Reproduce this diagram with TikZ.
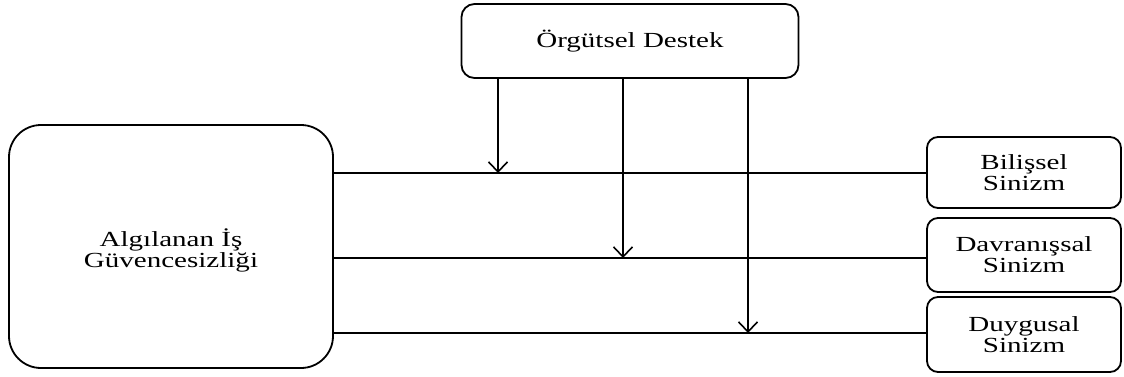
\documentclass[tikz,border=0pt]{standalone}
\usepackage{fontspec}
\setmainfont[FakeStretch=1.35]{Liberation Serif}
\usetikzlibrary{arrows.meta}
\begin{document}
\begin{tikzpicture}[x=1pt,y=-1pt,
  txt/.style={align=center,inner sep=0pt,font=\fontsize{21.5}{21}\selectfont},
  box/.style={txt,draw,line width=1.8pt,rectangle},
  link/.style={line width=1.8pt},
  arr/.style={line width=1.8pt,-{Straight Barb[length=10pt,width=19pt,line width=1.6pt]}}]
\useasboundingbox (0,0) rectangle (1124,376);

% factor boxes
\node[box,rounded corners=13pt,minimum width=337pt,minimum height=74pt] (org) at (630,41) {Örgütsel Destek};
\node[box,rounded corners=32pt,minimum width=324pt,minimum height=243pt] (guv) at (171,246.5) {};
\node[txt] (guvtext) at ([yshift=-4pt]guv.center) {Algılanan İş\\Güvencesizliği};
\node[box,rounded corners=11pt,minimum width=194pt,minimum height=71pt] (bil) at (1024,172.5) {Bilişsel\\Sinizm};
\node[box,rounded corners=11pt,minimum width=194pt,minimum height=74pt] (dav) at (1024,255) {Davranışsal\\Sinizm};
\node[box,rounded corners=11pt,minimum width=194pt,minimum height=75pt] (duy) at (1024,334.5) {Duygusal\\Sinizm};

% direct paths
\coordinate (e1) at ([yshift=-0.5pt]bil.west);
\coordinate (e2) at ([yshift=-3pt]dav.west);
\coordinate (e3) at ([yshift=1.5pt]duy.west);
\draw[link] (guv.east |- e1) -- (e1);
\draw[link] (guv.east |- e2) -- (e2);
\draw[link] (guv.east |- e3) -- (e3);

% moderating arrows
\coordinate (m1) at (498,0);
\coordinate (m2) at (623,0);
\coordinate (m3) at (748,0);
\draw[arr] (org.south -| m1) -- (m1 |- e1);
\draw[arr] (org.south -| m2) -- (m2 |- e2);
\draw[arr] (org.south -| m3) -- (m3 |- e3);
\end{tikzpicture}
\end{document}
